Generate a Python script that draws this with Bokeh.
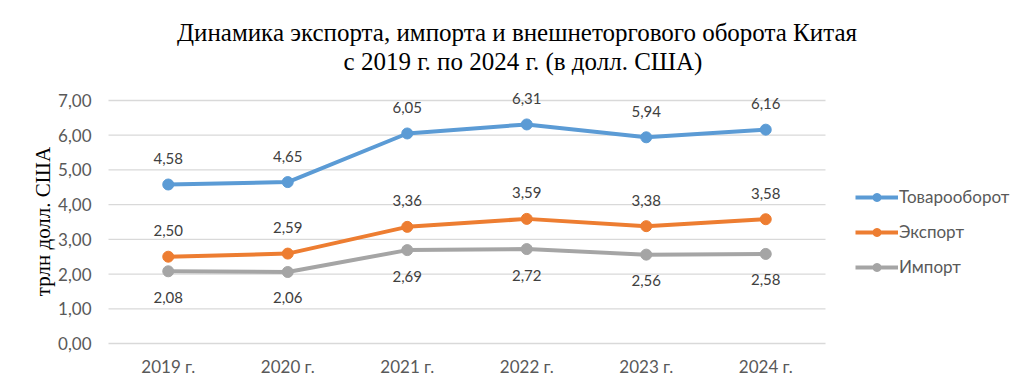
from bokeh.plotting import figure
from bokeh.models import Range1d, Label, Legend, LegendItem, ColumnDataSource
from bokeh.core.properties import value
from bokeh.embed import file_html
from bokeh.resources import INLINE
import math

years = ["2019 г.", "2020 г.", "2021 г.", "2022 г.", "2023 г.", "2024 г."]
turnover = [4.58, 4.65, 6.05, 6.31, 5.94, 6.16]
export = [2.50, 2.59, 3.36, 3.59, 3.38, 3.58]
imports = [2.08, 2.06, 2.69, 2.72, 2.56, 2.58]
series_names = ["Товарооборот", "Экспорт", "Импорт"]
y_ticks = [0, 1, 2, 3, 4, 5, 6, 7]
y_tick_labels = [f"{t:.2f}".replace(".", ",") for t in y_ticks]
title_lines = ["Динамика экспорта, импорта и внешнеторгового оборота Китая",
               "с 2019 г. по 2024 г. (в долл. США)"]
y_label = "трлн долл. США"

colors = ["#5B9BD5", "#ED7D31", "#A5A5A5"]
SANS = "Lato"
SERIF = "Liberation Serif"

W, H = 1020, 376
AREA_LEFT = 108                   # left edge of the plotting area (px)
AREA_BOTTOM = 343                 # y pixel of the zero line
CAT_W = 119.5                     # px per category
unit_px = 243 / (len(y_ticks) - 1)

xs = list(range(len(years)))
x_start = -0.5 - AREA_LEFT / CAT_W
x_end = x_start + W / CAT_W
y_start = -(H - AREA_BOTTOM) / unit_px
y_end = AREA_BOTTOM / unit_px

p = figure(width=W, height=H, x_range=Range1d(x_start, x_end),
           y_range=Range1d(y_start, y_end), output_backend="svg", toolbar_location=None,
           title=None, x_axis_location=None, y_axis_location=None,
           min_border_left=0, min_border_right=0, min_border_top=0, min_border_bottom=0)
p.outline_line_color = None
p.background_fill_color = "white"
p.border_fill_color = "white"
p.xgrid.grid_line_color = None
p.ygrid.grid_line_color = None

# horizontal gridlines limited to the category span
p.segment(x0=[-0.5] * len(y_ticks), x1=[len(years) - 0.5] * len(y_ticks),
          y0=y_ticks, y1=y_ticks, line_color="#D9D9D9", line_width=1.3, level="underlay")
# y tick labels
p.text(x=[-0.5] * len(y_ticks), y=y_ticks, text=y_tick_labels, x_offset=-17,
       text_align="right", text_baseline="middle", text_font=value(SANS),
       text_font_size="17px", text_color="#595959")
# x tick labels (categories)
p.text(x=xs, y=[y_ticks[0]] * len(xs), text=years, y_offset=23,
       text_align="center", text_baseline="middle", text_font=value(SANS),
       text_font_size="17px", text_color="#595959")

items = []
for name, vals, col, above in zip(series_names, [turnover, export, imports], colors, [True, True, False]):
    src = ColumnDataSource(dict(x=xs, y=vals, t=[f"{v:.2f}".replace(".", ",") for v in vals]))
    l = p.line("x", "y", source=src, line_color=col, line_width=4)
    s = p.scatter("x", "y", source=src, size=11, fill_color=col, line_color=col)
    p.text("x", "y", text="t", source=src, text_align="center", text_baseline="middle",
           y_offset=(-26 if above else 26), text_font=value(SANS), text_font_size="15px",
           text_color="#404040")
    items.append(LegendItem(label=name, renderers=[l, s]))

legend = Legend(items=items, location=(855, H - 277), orientation="vertical",
                glyph_width=43, glyph_height=20, label_height=20, spacing=14,
                label_standoff=1, padding=0, margin=0,
                label_text_font=SANS, label_text_font_size="17px", label_text_color="#595959",
                border_line_color=None, background_fill_alpha=0)
p.add_layout(legend, "center")

# y axis title (centered on the 0..7 span)
p.add_layout(Label(x=42, y=H - 221, x_units="screen", y_units="screen",
                   text=y_label, angle=math.pi / 2, text_align="center", text_baseline="middle",
                   text_font=SERIF, text_font_size="21px", text_color="black"))

for txt, cx, cy in zip(title_lines, [516.5, 522.5], [32, 61]):
    p.add_layout(Label(x=cx, y=H - cy, x_units="screen", y_units="screen",
                       text=txt, text_align="center", text_baseline="middle",
                       text_font=SERIF, text_font_size="25px", text_color="black"))

open("out.html", "w").write(file_html(p, INLINE))
